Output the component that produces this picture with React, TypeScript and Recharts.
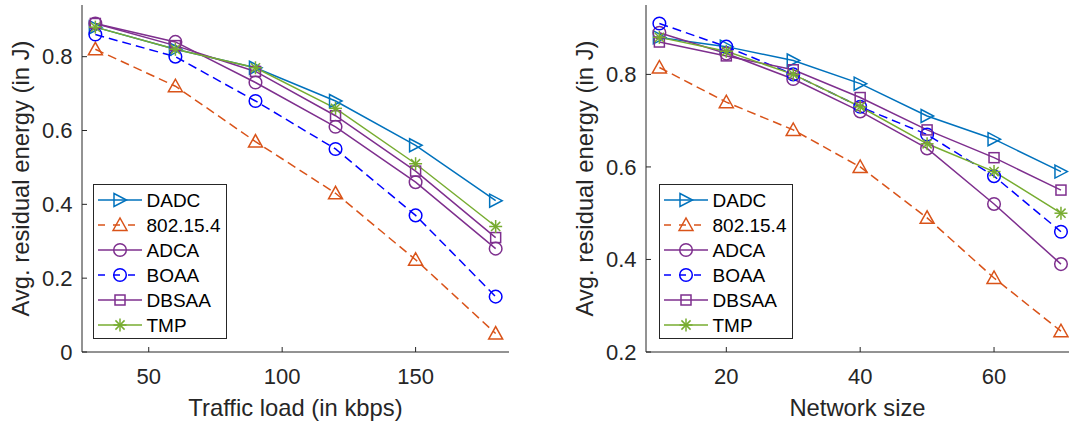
import React from 'react';
import { LineChart, Line, XAxis, YAxis, Legend } from 'recharts';

// left panel: traffic load
const loads = [30, 60, 90, 120, 150, 180];
const dadcLoad = [0.88, 0.82, 0.77, 0.68, 0.56, 0.41];
const ieeeLoad = [0.82, 0.72, 0.57, 0.43, 0.25, 0.05];
const adcaLoad = [0.89, 0.84, 0.73, 0.61, 0.46, 0.28];
const boaaLoad = [0.86, 0.80, 0.68, 0.55, 0.37, 0.15];
const dbsaaLoad = [0.89, 0.83, 0.76, 0.64, 0.49, 0.31];
const tmpLoad = [0.88, 0.82, 0.77, 0.66, 0.51, 0.34];

// right panel: network size
const sizes = [10, 20, 30, 40, 50, 60, 70];
const dadcSize = [0.88, 0.86, 0.83, 0.78, 0.71, 0.66, 0.59];
const ieeeSize = [0.815, 0.74, 0.68, 0.60, 0.49, 0.36, 0.245];
const adcaSize = [0.89, 0.845, 0.79, 0.72, 0.64, 0.52, 0.39];
const boaaSize = [0.91, 0.86, 0.80, 0.73, 0.67, 0.58, 0.46];
const dbsaaSize = [0.87, 0.84, 0.81, 0.75, 0.68, 0.62, 0.55];
const tmpSize = [0.88, 0.85, 0.80, 0.73, 0.65, 0.59, 0.50];

const loadTicks = [50, 100, 150];
const loadYTicks = [0, 0.2, 0.4, 0.6, 0.8];
const sizeTicks = [20, 40, 60];
const sizeYTicks = [0.2, 0.4, 0.6, 0.8];

const FONT = '"Liberation Sans", Arial, Helvetica, sans-serif';
const INK = '#262626';

type Shape = 'right' | 'up' | 'circle' | 'square' | 'star';

const series: { key: string; name: string; color: string; shape: Shape; dashed: boolean }[] = [
  { key: 'dadc', name: 'DADC', color: '#0072BD', shape: 'right', dashed: false },
  { key: 'ieee', name: '802.15.4', color: '#D95319', shape: 'up', dashed: true },
  { key: 'adca', name: 'ADCA', color: '#7E2F8E', shape: 'circle', dashed: false },
  { key: 'boaa', name: 'BOAA', color: '#0000FF', shape: 'circle', dashed: true },
  { key: 'dbsaa', name: 'DBSAA', color: '#7E2F8E', shape: 'square', dashed: false },
  { key: 'tmp', name: 'TMP', color: '#77AC30', shape: 'star', dashed: false },
];

const loadData = loads.map((x, i) => ({
  x,
  dadc: dadcLoad[i],
  ieee: ieeeLoad[i],
  adca: adcaLoad[i],
  boaa: boaaLoad[i],
  dbsaa: dbsaaLoad[i],
  tmp: tmpLoad[i],
}));

const sizeData = sizes.map((x, i) => ({
  x,
  dadc: dadcSize[i],
  ieee: ieeeSize[i],
  adca: adcaSize[i],
  boaa: boaaSize[i],
  dbsaa: dbsaaSize[i],
  tmp: tmpSize[i],
}));

const Marker = ({ shape, cx, cy, color }: { shape: Shape; cx: number; cy: number; color: string }) => {
  const common = { fill: 'none', stroke: color, strokeWidth: 1.5 };
  if (shape === 'right') {
    return <polygon points={`${cx - 6},${cy - 6.5} ${cx + 6.5},${cy} ${cx - 6},${cy + 6.5}`} {...common} />;
  }
  if (shape === 'up') {
    return <polygon points={`${cx - 7},${cy + 5.5} ${cx},${cy - 7} ${cx + 7},${cy + 5.5}`} {...common} />;
  }
  if (shape === 'circle') return <circle cx={cx} cy={cy} r={6.3} {...common} />;
  if (shape === 'square') return <rect x={cx - 5} y={cy - 5} width={10} height={10} {...common} />;
  const r = 6.5;
  const d = r * 0.7071;
  return (
    <g stroke={color} strokeWidth={1.5}>
      <line x1={cx - r} y1={cy} x2={cx + r} y2={cy} />
      <line x1={cx} y1={cy - r} x2={cx} y2={cy + r} />
      <line x1={cx - d} y1={cy - d} x2={cx + d} y2={cy + d} />
      <line x1={cx - d} y1={cy + d} x2={cx + d} y2={cy - d} />
    </g>
  );
};

const BottomTick = (p: any) => (
  <g>
    <line x1={p.x} y1={p.y} x2={p.x} y2={p.y - 5} stroke={INK} />
    <text x={p.x} y={p.y + 24.5} dy="0.35em" textAnchor="middle" fill={INK} fontSize={22} fontFamily={FONT}>
      {p.payload.value}
    </text>
  </g>
);
const TopTick = (p: any) => <line x1={p.x} y1={p.y} x2={p.x} y2={p.y + 5} stroke={INK} />;
const LeftTick = (p: any) => (
  <g>
    <line x1={p.x} y1={p.y} x2={p.x + 5} y2={p.y} stroke={INK} />
    <text x={p.x - 9.5} y={p.y} dy="0.35em" textAnchor="end" fill={INK} fontSize={22} fontFamily={FONT}>
      {p.payload.value}
    </text>
  </g>
);
const RightTick = (p: any) => <line x1={p.x} y1={p.y} x2={p.x - 5} y2={p.y} stroke={INK} />;

const XTitle = ({ text, viewBox }: any) => (
  <text x={viewBox.x + viewBox.width / 2} y={viewBox.y + 56} dy="0.35em" textAnchor="middle" fill={INK} fontSize={23.8} fontFamily={FONT}>
    {text}
  </text>
);
const YTitle = ({ text, viewBox }: any) => {
  const cx = viewBox.x + viewBox.width - 61;
  const cy = viewBox.y + viewBox.height / 2;
  return (
    <text x={cx} y={cy} dy="0.35em" textAnchor="middle" fill={INK} fontSize={23.8} fontFamily={FONT} transform={`rotate(-90 ${cx} ${cy})`}>
      {text}
    </text>
  );
};

const LegendBox = () => (
  <div style={{ width: 134, height: 155, border: `1px solid ${INK}`, background: '#fff', boxSizing: 'border-box' }}>
    <svg width={132} height={153}>
      {series.map((s, i) => {
        const y = 15 + i * 25;
        return (
          <g key={s.key}>
            <line x1={4} y1={y} x2={48} y2={y} stroke={s.color} strokeWidth={1.5} strokeDasharray={s.dashed ? '7 8' : undefined} />
            <Marker shape={s.shape} cx={26} cy={y} color={s.color} />
            <text x={52.5} y={y} dy="0.35em" fontSize={19} fontFamily={FONT} fill="#000">
              {s.name}
            </text>
          </g>
        );
      })}
    </svg>
  </div>
);

const Panel = ({
  data, width, yAxisWidth, right, xDomain, yDomain, xTicks, yTicks, xLabel, legendLeft,
}: any) => (
  <LineChart width={width} height={428} data={data} margin={{ top: 5, right, bottom: 0, left: 0 }}>
    <XAxis dataKey="x" type="number" domain={xDomain} ticks={xTicks} interval={0} allowDataOverflow
      height={76} tickSize={0} tickMargin={0} tickLine={false} axisLine={{ stroke: INK }} tick={<BottomTick />}
      label={<XTitle text={xLabel} />} />
    <XAxis xAxisId="top" orientation="top" dataKey="x" type="number" domain={xDomain} ticks={xTicks} interval={0}
      allowDataOverflow height={0} tickSize={0} tickMargin={0} tickLine={false} axisLine={{ stroke: INK }} tick={<TopTick />} />
    <YAxis type="number" domain={yDomain} ticks={yTicks} interval={0} allowDataOverflow width={yAxisWidth}
      tickSize={0} tickMargin={0} tickLine={false} axisLine={{ stroke: INK }} tick={<LeftTick />}
      label={<YTitle text="Avg. residual energy (in J)" />} />
    <YAxis yAxisId="right" orientation="right" type="number" domain={yDomain} ticks={yTicks} interval={0}
      allowDataOverflow width={0} tickSize={0} tickMargin={0} tickLine={false} axisLine={{ stroke: INK }} tick={<RightTick />} />
    <Legend layout="vertical" align="center" verticalAlign="middle" content={<LegendBox />}
      wrapperStyle={{ left: legendLeft, top: 184, width: 134, height: 155 }} />
    {series.map((s) => (
      <Line key={s.key} dataKey={s.key} name={s.name} stroke={s.color} strokeWidth={1.5}
        strokeDasharray={s.dashed ? '9 5' : undefined} isAnimationActive={false}
        dot={(p: any) => (
          <g key={`${s.key}-${p.index}`}>
            <Marker shape={s.shape} cx={p.cx} cy={p.cy} color={s.color} />
          </g>
        )}
        activeDot={false} />
    ))}
  </LineChart>
);

export default function App() {
  return (
    <div style={{ position: 'absolute', left: 0, top: 0, width: 1075, height: 428, background: '#fff' }}>
      <div style={{ position: 'absolute', left: 0, top: 0 }}>
        <Panel data={loadData} width={537} yAxisWidth={82} right={28} xDomain={[25, 185]} yDomain={[0, 0.94]}
          xTicks={loadTicks} yTicks={loadYTicks} xLabel="Traffic load (in kbps)" legendLeft={93} />
      </div>
      <div style={{ position: 'absolute', left: 537, top: 0 }}>
        <Panel data={sizeData} width={538} yAxisWidth={109} right={6} xDomain={[8, 71.2]} yDomain={[0.2, 0.95]}
          xTicks={sizeTicks} yTicks={sizeYTicks} xLabel="Network size" legendLeft={122} />
      </div>
    </div>
  );
}
